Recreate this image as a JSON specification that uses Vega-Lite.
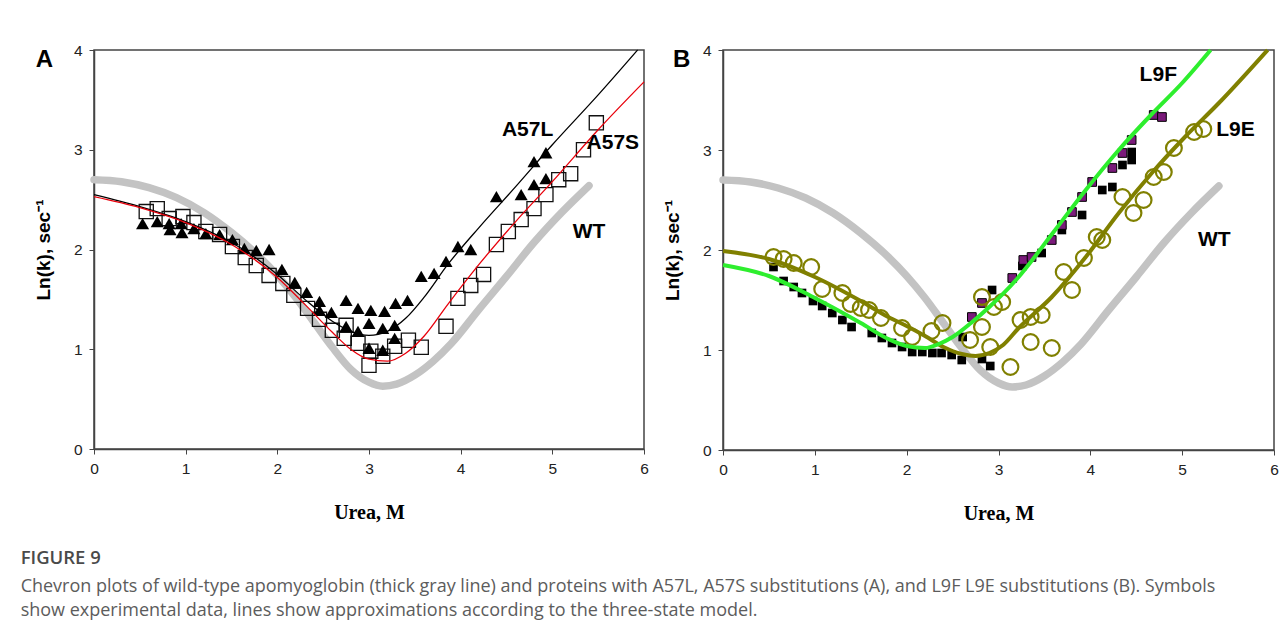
{
  "$schema": "https://vega.github.io/schema/vega-lite/v6.json",
  "background": "white",
  "padding": {"left": 20, "top": 41, "right": 2, "bottom": 5},
  "spacing": 12,
  "title": {
    "text": "FIGURE 9",
    "subtitle": ["Chevron plots of wild-type apomyoglobin (thick gray line) and proteins with A57L, A57S substitutions (A), and L9F L9E substitutions (B). Symbols", "show experimental data, lines show approximations according to the three-state model."],
    "orient": "bottom",
    "anchor": "start",
    "frame": "bounds",
    "dx": -13,
    "offset": 25,
    "font": "Open Sans",
    "fontSize": 18.5,
    "fontWeight": 600,
    "color": "#4a4a4a",
    "subtitleFont": "Open Sans",
    "subtitleFontSize": 18,
    "subtitleFontWeight": "normal",
    "subtitleColor": "#5c5c5c",
    "subtitleLineHeight": 24,
    "subtitlePadding": 10
  },
  "datasets": {
    "wt": [
      {"x": 0, "y": 2.70}, {"x": 0.3, "y": 2.68}, {"x": 0.6, "y": 2.62}, {"x": 0.9, "y": 2.52},
      {"x": 1.2, "y": 2.37}, {"x": 1.5, "y": 2.17}, {"x": 1.8, "y": 1.93}, {"x": 2.0, "y": 1.74},
      {"x": 2.2, "y": 1.52}, {"x": 2.4, "y": 1.27}, {"x": 2.6, "y": 1.02}, {"x": 2.8, "y": 0.80},
      {"x": 3.0, "y": 0.67}, {"x": 3.15, "y": 0.63}, {"x": 3.3, "y": 0.65}, {"x": 3.5, "y": 0.74},
      {"x": 3.7, "y": 0.88}, {"x": 3.9, "y": 1.06}, {"x": 4.2, "y": 1.40}, {"x": 4.5, "y": 1.73},
      {"x": 4.8, "y": 2.07}, {"x": 5.1, "y": 2.37}, {"x": 5.4, "y": 2.64}
    ],
    "a_fit": [
      {"series": "A57L", "x": 0, "y": 2.55}, {"series": "A57L", "x": 0.5, "y": 2.43}, {"series": "A57L", "x": 1.0, "y": 2.28},
      {"series": "A57L", "x": 1.5, "y": 2.07}, {"series": "A57L", "x": 2.0, "y": 1.75}, {"series": "A57L", "x": 2.3, "y": 1.50},
      {"series": "A57L", "x": 2.6, "y": 1.28}, {"series": "A57L", "x": 2.8, "y": 1.18}, {"series": "A57L", "x": 3.0, "y": 1.14},
      {"series": "A57L", "x": 3.2, "y": 1.18}, {"series": "A57L", "x": 3.4, "y": 1.31}, {"series": "A57L", "x": 3.6, "y": 1.52},
      {"series": "A57L", "x": 3.86, "y": 1.85}, {"series": "A57L", "x": 4.2, "y": 2.22}, {"series": "A57L", "x": 4.6, "y": 2.63},
      {"series": "A57L", "x": 5.0, "y": 3.05}, {"series": "A57L", "x": 5.5, "y": 3.55}, {"series": "A57L", "x": 5.93, "y": 4.0},
      {"series": "A57S", "x": 0, "y": 2.53}, {"series": "A57S", "x": 0.5, "y": 2.42}, {"series": "A57S", "x": 1.0, "y": 2.27},
      {"series": "A57S", "x": 1.5, "y": 2.05}, {"series": "A57S", "x": 2.0, "y": 1.72}, {"series": "A57S", "x": 2.3, "y": 1.45},
      {"series": "A57S", "x": 2.6, "y": 1.17}, {"series": "A57S", "x": 2.8, "y": 1.00}, {"series": "A57S", "x": 3.0, "y": 0.90},
      {"series": "A57S", "x": 3.2, "y": 0.88}, {"series": "A57S", "x": 3.4, "y": 0.96}, {"series": "A57S", "x": 3.6, "y": 1.13},
      {"series": "A57S", "x": 3.86, "y": 1.45}, {"series": "A57S", "x": 4.2, "y": 1.85}, {"series": "A57S", "x": 4.6, "y": 2.28},
      {"series": "A57S", "x": 5.0, "y": 2.68}, {"series": "A57S", "x": 5.5, "y": 3.20}, {"series": "A57S", "x": 6.0, "y": 3.68}
    ],
    "a57l": [
      {"x": 0.53, "y": 2.26}, {"x": 0.69, "y": 2.28}, {"x": 0.82, "y": 2.26}, {"x": 0.83, "y": 2.20},
      {"x": 0.95, "y": 2.26}, {"x": 0.96, "y": 2.17}, {"x": 1.09, "y": 2.21}, {"x": 1.22, "y": 2.16},
      {"x": 1.37, "y": 2.15}, {"x": 1.51, "y": 2.10}, {"x": 1.64, "y": 2.01}, {"x": 1.77, "y": 1.99},
      {"x": 1.91, "y": 2.00}, {"x": 2.05, "y": 1.80}, {"x": 2.19, "y": 1.67}, {"x": 2.32, "y": 1.57},
      {"x": 2.46, "y": 1.48}, {"x": 2.46, "y": 1.39}, {"x": 2.59, "y": 1.37}, {"x": 2.75, "y": 1.49},
      {"x": 2.75, "y": 1.23}, {"x": 2.88, "y": 1.41}, {"x": 2.88, "y": 1.18}, {"x": 3.00, "y": 1.26},
      {"x": 3.02, "y": 1.39}, {"x": 3.00, "y": 1.01}, {"x": 3.15, "y": 1.21}, {"x": 3.15, "y": 0.99},
      {"x": 3.17, "y": 1.38}, {"x": 3.28, "y": 1.24}, {"x": 3.28, "y": 1.11}, {"x": 3.29, "y": 1.46},
      {"x": 3.42, "y": 1.49}, {"x": 3.57, "y": 1.73}, {"x": 3.71, "y": 1.76}, {"x": 3.84, "y": 1.88},
      {"x": 3.97, "y": 2.03}, {"x": 4.11, "y": 2.00}, {"x": 4.39, "y": 2.53}, {"x": 4.66, "y": 2.55},
      {"x": 4.80, "y": 2.65}, {"x": 4.93, "y": 2.71}, {"x": 4.80, "y": 2.88}, {"x": 4.93, "y": 2.97}
    ],
    "a57s": [
      {"x": 0.57, "y": 2.38}, {"x": 0.69, "y": 2.41}, {"x": 0.82, "y": 2.31}, {"x": 0.97, "y": 2.33},
      {"x": 1.09, "y": 2.27}, {"x": 1.22, "y": 2.18}, {"x": 1.37, "y": 2.15}, {"x": 1.51, "y": 2.03},
      {"x": 1.65, "y": 1.92}, {"x": 1.77, "y": 1.84}, {"x": 1.91, "y": 1.74}, {"x": 2.06, "y": 1.66},
      {"x": 2.18, "y": 1.54}, {"x": 2.33, "y": 1.41}, {"x": 2.46, "y": 1.30}, {"x": 2.60, "y": 1.19},
      {"x": 2.75, "y": 1.24}, {"x": 2.73, "y": 1.11}, {"x": 2.88, "y": 1.06}, {"x": 3.00, "y": 0.84},
      {"x": 3.02, "y": 0.98}, {"x": 3.15, "y": 0.93}, {"x": 3.28, "y": 1.03}, {"x": 3.43, "y": 1.09},
      {"x": 3.57, "y": 1.02}, {"x": 3.84, "y": 1.23}, {"x": 3.97, "y": 1.51}, {"x": 4.11, "y": 1.64},
      {"x": 4.25, "y": 1.75}, {"x": 4.39, "y": 2.05}, {"x": 4.52, "y": 2.18}, {"x": 4.66, "y": 2.30},
      {"x": 4.80, "y": 2.41}, {"x": 4.93, "y": 2.55}, {"x": 5.07, "y": 2.70}, {"x": 5.20, "y": 2.76},
      {"x": 5.34, "y": 3.00}, {"x": 5.48, "y": 3.27}
    ],
    "a_labels": [
      {"label": "A57L", "x": 4.73, "y": 3.2},
      {"label": "A57S", "x": 5.66, "y": 3.07},
      {"label": "WT", "x": 5.4, "y": 2.18}
    ],
    "a_letter": [{"label": "A", "x": -0.54, "y": 3.9}],
    "b_fit": [
      {"series": "L9F", "x": 0, "y": 1.85}, {"series": "L9F", "x": 0.5, "y": 1.74}, {"series": "L9F", "x": 1.0, "y": 1.52},
      {"series": "L9F", "x": 1.5, "y": 1.27}, {"series": "L9F", "x": 1.8, "y": 1.11}, {"series": "L9F", "x": 2.0, "y": 1.04},
      {"series": "L9F", "x": 2.2, "y": 1.02}, {"series": "L9F", "x": 2.35, "y": 1.06}, {"series": "L9F", "x": 2.5, "y": 1.13},
      {"series": "L9F", "x": 2.7, "y": 1.27}, {"series": "L9F", "x": 2.9, "y": 1.43}, {"series": "L9F", "x": 3.2, "y": 1.71},
      {"series": "L9F", "x": 3.6, "y": 2.18}, {"series": "L9F", "x": 3.95, "y": 2.60}, {"series": "L9F", "x": 4.3, "y": 2.99},
      {"series": "L9F", "x": 4.67, "y": 3.36}, {"series": "L9F", "x": 5.0, "y": 3.67}, {"series": "L9F", "x": 5.31, "y": 4.0},
      {"series": "L9E", "x": 0, "y": 1.99}, {"series": "L9E", "x": 0.5, "y": 1.91}, {"series": "L9E", "x": 1.0, "y": 1.73},
      {"series": "L9E", "x": 1.5, "y": 1.49}, {"series": "L9E", "x": 1.8, "y": 1.33}, {"series": "L9E", "x": 2.0, "y": 1.24},
      {"series": "L9E", "x": 2.2, "y": 1.14}, {"series": "L9E", "x": 2.4, "y": 1.03}, {"series": "L9E", "x": 2.6, "y": 0.96},
      {"series": "L9E", "x": 2.75, "y": 0.94}, {"series": "L9E", "x": 2.9, "y": 0.97}, {"series": "L9E", "x": 3.05, "y": 1.05},
      {"series": "L9E", "x": 3.22, "y": 1.22}, {"series": "L9E", "x": 3.58, "y": 1.53}, {"series": "L9E", "x": 3.95, "y": 1.93},
      {"series": "L9E", "x": 4.31, "y": 2.37}, {"series": "L9E", "x": 4.67, "y": 2.77}, {"series": "L9E", "x": 5.03, "y": 3.13},
      {"series": "L9E", "x": 5.4, "y": 3.47}, {"series": "L9E", "x": 5.93, "y": 4.0}
    ],
    "l9f_black": [
      {"x": 0.55, "y": 1.83}, {"x": 0.66, "y": 1.69}, {"x": 0.77, "y": 1.63}, {"x": 0.86, "y": 1.57},
      {"x": 0.98, "y": 1.49}, {"x": 1.08, "y": 1.44}, {"x": 1.19, "y": 1.37}, {"x": 1.30, "y": 1.30},
      {"x": 1.40, "y": 1.23}, {"x": 1.62, "y": 1.17}, {"x": 1.73, "y": 1.12}, {"x": 1.84, "y": 1.07},
      {"x": 1.95, "y": 1.03}, {"x": 2.06, "y": 0.98}, {"x": 2.17, "y": 0.98}, {"x": 2.28, "y": 0.97},
      {"x": 2.38, "y": 0.97}, {"x": 2.49, "y": 0.95}, {"x": 2.60, "y": 0.90}, {"x": 2.61, "y": 1.13},
      {"x": 2.82, "y": 0.91}, {"x": 2.91, "y": 0.84}, {"x": 2.93, "y": 1.60}, {"x": 3.26, "y": 1.84},
      {"x": 3.47, "y": 1.97}, {"x": 3.69, "y": 2.20}, {"x": 3.91, "y": 2.35}, {"x": 4.13, "y": 2.60},
      {"x": 4.24, "y": 2.63}, {"x": 4.35, "y": 2.85}, {"x": 4.45, "y": 2.90}, {"x": 4.45, "y": 2.98}
    ],
    "l9f_purple": [
      {"x": 2.71, "y": 1.33}, {"x": 2.82, "y": 1.47}, {"x": 3.15, "y": 1.72}, {"x": 3.27, "y": 1.90},
      {"x": 3.36, "y": 1.93}, {"x": 3.58, "y": 2.10}, {"x": 3.69, "y": 2.25}, {"x": 3.80, "y": 2.38},
      {"x": 3.91, "y": 2.53}, {"x": 4.02, "y": 2.68}, {"x": 4.24, "y": 2.82}, {"x": 4.35, "y": 2.97},
      {"x": 4.45, "y": 3.10}, {"x": 4.69, "y": 3.35}, {"x": 4.78, "y": 3.33}
    ],
    "l9e": [
      {"x": 0.55, "y": 1.93}, {"x": 0.66, "y": 1.91}, {"x": 0.77, "y": 1.87}, {"x": 0.96, "y": 1.83},
      {"x": 1.08, "y": 1.61}, {"x": 1.30, "y": 1.57}, {"x": 1.39, "y": 1.46}, {"x": 1.50, "y": 1.42},
      {"x": 1.59, "y": 1.40}, {"x": 1.72, "y": 1.32}, {"x": 1.95, "y": 1.22}, {"x": 2.06, "y": 1.13},
      {"x": 2.27, "y": 1.19}, {"x": 2.39, "y": 1.27}, {"x": 2.69, "y": 1.10}, {"x": 2.82, "y": 1.23},
      {"x": 2.91, "y": 1.03}, {"x": 2.82, "y": 1.53}, {"x": 3.04, "y": 1.48}, {"x": 2.95, "y": 1.43},
      {"x": 3.13, "y": 0.83}, {"x": 3.24, "y": 1.30}, {"x": 3.35, "y": 1.33}, {"x": 3.47, "y": 1.35},
      {"x": 3.35, "y": 1.08}, {"x": 3.58, "y": 1.02}, {"x": 3.71, "y": 1.78}, {"x": 3.80, "y": 1.60},
      {"x": 3.93, "y": 1.92}, {"x": 4.07, "y": 2.13}, {"x": 4.13, "y": 2.10}, {"x": 4.35, "y": 2.53},
      {"x": 4.47, "y": 2.37}, {"x": 4.58, "y": 2.50}, {"x": 4.69, "y": 2.73}, {"x": 4.80, "y": 2.78},
      {"x": 4.91, "y": 3.02}, {"x": 5.13, "y": 3.18}, {"x": 5.23, "y": 3.21}
    ],
    "b_labels": [
      {"label": "L9F", "x": 4.74, "y": 3.75},
      {"label": "L9E", "x": 5.58, "y": 3.2},
      {"label": "WT", "x": 5.35, "y": 2.1}
    ],
    "b_letter": [{"label": "B", "x": -0.45, "y": 3.9}]
  },
  "hconcat": [
    {
      "width": 550,
      "height": 399,
      "encoding": {
        "x": {"field": "x", "type": "quantitative", "scale": {"domain": [0, 6], "nice": false},
              "axis": {"title": "Urea, M", "values": [0, 1, 2, 3, 4, 5, 6]}},
        "y": {"field": "y", "type": "quantitative", "scale": {"domain": [0, 4], "nice": false},
              "axis": {"title": "Ln(k), sec⁻¹", "values": [0, 1, 2, 3, 4]}}
      },
      "layer": [
        {"data": {"name": "wt"}, "mark": {"type": "line", "color": "#c3c3c3", "strokeWidth": 7.5, "strokeCap": "round", "interpolate": "monotone"}},
        {"data": {"name": "a57s"}, "mark": {"type": "point", "shape": "square", "filled": false, "color": "#111111", "strokeWidth": 1.3, "size": 200, "opacity": 1}},
        {"data": {"name": "a57l"}, "mark": {"type": "point", "shape": "triangle-up", "filled": true, "color": "#000000", "size": 170, "opacity": 1}},
        {"data": {"name": "a_fit"}, "transform": [{"filter": "datum.series === 'A57L'"}], "mark": {"type": "line", "color": "#000000", "strokeWidth": 1.3, "interpolate": "monotone"}},
        {"data": {"name": "a_fit"}, "transform": [{"filter": "datum.series === 'A57S'"}], "mark": {"type": "line", "color": "#e8000b", "strokeWidth": 1.3, "interpolate": "monotone"}},
        {"data": {"name": "a_labels"}, "mark": {"type": "text", "font": "Liberation Sans", "fontSize": 21, "fontWeight": "bold", "color": "#000000"},
         "encoding": {"text": {"field": "label"}}},
        {"data": {"name": "a_letter"}, "mark": {"type": "text", "font": "Liberation Sans", "fontSize": 24, "fontWeight": "bold", "color": "#000000", "clip": false},
         "encoding": {"text": {"field": "label"}}}
      ]
    },
    {
      "width": 551,
      "height": 400,
      "encoding": {
        "x": {"field": "x", "type": "quantitative", "scale": {"domain": [0, 6], "nice": false},
              "axis": {"title": "Urea, M", "values": [0, 1, 2, 3, 4, 5, 6]}},
        "y": {"field": "y", "type": "quantitative", "scale": {"domain": [0, 4], "nice": false},
              "axis": {"title": "Ln(k), sec⁻¹", "values": [0, 1, 2, 3, 4]}}
      },
      "layer": [
        {"data": {"name": "wt"}, "mark": {"type": "line", "color": "#c3c3c3", "strokeWidth": 7.5, "strokeCap": "round", "interpolate": "monotone"}},
        {"data": {"name": "l9f_black"}, "mark": {"type": "point", "shape": "square", "filled": true, "color": "#000000", "size": 75, "opacity": 1}},
        {"data": {"name": "l9f_purple"}, "mark": {"type": "point", "shape": "square", "filled": true, "fill": "#7a1a7a", "stroke": "#000000", "strokeWidth": 1, "size": 75, "opacity": 1}},
        {"data": {"name": "l9e"}, "mark": {"type": "point", "shape": "circle", "filled": false, "color": "#808000", "strokeWidth": 2.2, "size": 250, "opacity": 1}},
        {"data": {"name": "b_fit"}, "transform": [{"filter": "datum.series === 'L9E'"}], "mark": {"type": "line", "color": "#808000", "strokeWidth": 4, "interpolate": "monotone"}},
        {"data": {"name": "b_fit"}, "transform": [{"filter": "datum.series === 'L9F'"}], "mark": {"type": "line", "color": "#2eee2e", "strokeWidth": 4, "interpolate": "monotone"}},
        {"data": {"name": "b_labels"}, "mark": {"type": "text", "font": "Liberation Sans", "fontSize": 21, "fontWeight": "bold", "color": "#000000"},
         "encoding": {"text": {"field": "label"}}},
        {"data": {"name": "b_letter"}, "mark": {"type": "text", "font": "Liberation Sans", "fontSize": 24, "fontWeight": "bold", "color": "#000000", "clip": false},
         "encoding": {"text": {"field": "label"}}}
      ]
    }
  ],
  "config": {
    "view": {"stroke": "#444444", "strokeWidth": 1.5},
    "axis": {
      "grid": false,
      "domainColor": "#444444",
      "domainWidth": 1.5,
      "tickColor": "#444444",
      "tickSize": 5,
      "labelFont": "Liberation Sans",
      "labelFontSize": 15.5,
      "labelColor": "#222222",
      "labelPadding": 7,
      "labelOverlap": false,
      "labelFlush": false
    },
    "axisX": {
      "titleFont": "Liberation Serif",
      "titleFontSize": 20,
      "titleFontWeight": "bold",
      "titleColor": "#000000",
      "titlePadding": 26
    },
    "axisY": {
      "titleFont": "Liberation Sans",
      "titleFontSize": 19,
      "titleFontWeight": "bold",
      "titleColor": "#000000",
      "titlePadding": 20
    }
  }
}
